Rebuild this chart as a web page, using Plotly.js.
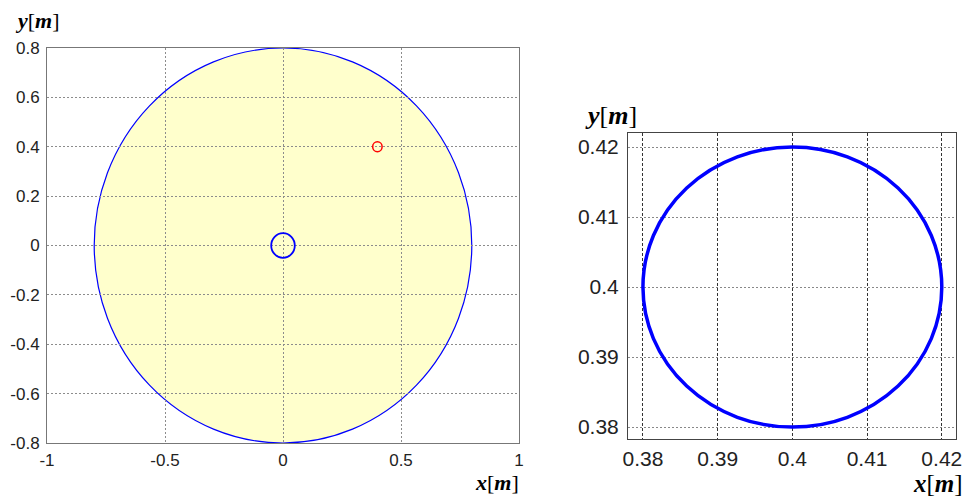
<!DOCTYPE html>
<html>
<head>
<meta charset="utf-8">
<script src="https://cdn.plot.ly/plotly-3.0.1.min.js"></script>
<style>
  html, body { margin: 0; padding: 0; background: #fff; }
  #chart { width: 966px; height: 497px; }
</style>
</head>
<body>
<div id="chart"></div>
<script>
// Workspace boundary, hub and target circles: centre (x, y) and radius in metres
const workspaceCenter = [0, 0];
const workspaceRadius = 0.8;
const hubCenter = [0, 0];
const hubRadius = 0.05;
const targetCenter = [0.4, 0.4];
const targetRadius = 0.02;

// Tick positions and labels, overview panel
const overviewXTicks = [-1, -0.5, 0, 0.5, 1];
const overviewXLabels = ['-1', '-0.5', '0', '0.5', '1'];
const overviewYTicks = [-0.8, -0.6, -0.4, -0.2, 0, 0.2, 0.4, 0.6, 0.8];
const overviewYLabels = ['-0.8', '-0.6', '-0.4', '-0.2', '0', '0.2', '0.4', '0.6', '0.8'];

// Tick positions and labels, detail panel around the target
const detailTicks = [0.38, 0.39, 0.40, 0.41, 0.42];
const detailLabels = ['0.38', '0.39', '0.4', '0.41', '0.42'];

function circleShape(xref, yref, c, r, color, width, fill, layer) {
  return {
    type: 'circle', xref: xref, yref: yref,
    x0: c[0] - r, x1: c[0] + r, y0: c[1] - r, y1: c[1] + r,
    line: { color: color, width: width },
    fillcolor: fill || 'rgba(0,0,0,0)',
    layer: layer || 'above'
  };
}

const W = 966, H = 497;
const dom = (a, b, n) => [a / n, b / n];
const vdom = (top, bottom) => [1 - bottom / H, 1 - top / H];

const tickFontL = { family: 'Liberation Sans, Arial, sans-serif', size: 17, color: '#222' };
const tickFontR = { family: 'Liberation Sans, Arial, sans-serif', size: 21, color: '#222' };
const labelFont = (s) => ({ family: 'Liberation Serif, Times New Roman, serif', size: s, color: '#000' });

const layout = {
  width: W, height: H,
  margin: { l: 0, r: 0, t: 0, b: 0 },
  paper_bgcolor: '#fff',
  plot_bgcolor: '#fff',
  showlegend: false,
  xaxis: {
    domain: dom(47, 519, W), range: [-1, 1], anchor: 'y',
    tickvals: overviewXTicks, ticktext: overviewXLabels,
    showgrid: true, gridcolor: '#8c8c8c', griddash: '2px,2px', gridwidth: 1,
    zeroline: false, showline: true, mirror: true, linecolor: '#777', linewidth: 1,
    ticks: '', tickfont: tickFontL, ticklabelstandoff: 2
  },
  yaxis: {
    domain: vdom(48, 443), range: [-0.8, 0.8], anchor: 'x',
    tickvals: overviewYTicks, ticktext: overviewYLabels,
    showgrid: true, gridcolor: '#8c8c8c', griddash: '2px,2px', gridwidth: 1,
    zeroline: false, showline: true, mirror: true, linecolor: '#777', linewidth: 1,
    ticks: '', tickfont: tickFontL, ticklabelstandoff: 3
  },
  xaxis2: {
    domain: dom(628, 956, W), range: [0.3780, 0.4219], anchor: 'y2',
    tickvals: detailTicks, ticktext: detailLabels,
    showgrid: true, gridcolor: '#333', griddash: '3px,2px', gridwidth: 1,
    zeroline: false, showline: true, mirror: true, linecolor: '#444', linewidth: 1,
    ticks: '', tickfont: tickFontR, ticklabelstandoff: 1
  },
  yaxis2: {
    domain: vdom(133, 439), range: [0.3783, 0.4220], anchor: 'x2',
    tickvals: detailTicks, ticktext: detailLabels,
    showgrid: true, gridcolor: '#888', griddash: '2px,2px', gridwidth: 1,
    zeroline: false, showline: true, mirror: true, linecolor: '#444', linewidth: 1,
    ticks: '', tickfont: tickFontR, ticklabelstandoff: 4
  },
  shapes: [
    circleShape('x', 'y', workspaceCenter, workspaceRadius, '#0000ff', 1.2, '#ffffcc', 'below'),
    circleShape('x', 'y', hubCenter, hubRadius, '#0000ff', 1.8),
    circleShape('x', 'y', targetCenter, targetRadius, '#ff0000', 1.5),
    circleShape('x2', 'y2', targetCenter, targetRadius, '#0000ff', 3.5)
  ],
  annotations: [
    { xref: 'paper', yref: 'paper', x: 13 / W, y: 1 - 20 / H, xanchor: 'left', yanchor: 'middle',
      text: '<b><i>y</i></b>[<b><i>m</i></b>]', showarrow: false, font: labelFont(22) },
    { xref: 'paper', yref: 'paper', x: 521 / W, y: 0, xanchor: 'right', yanchor: 'bottom',
      text: '<b><i>x</i></b>[<b><i>m</i></b>]', showarrow: false, font: labelFont(22) },
    { xref: 'paper', yref: 'paper', x: 583 / W, y: 1 - 116 / H, xanchor: 'left', yanchor: 'middle',
      text: '<b><i>y</i></b>[<b><i>m</i></b>]', showarrow: false, font: labelFont(26) },
    { xref: 'paper', yref: 'paper', x: 965 / W, y: 0, xanchor: 'right', yanchor: 'bottom', yshift: -2,
      text: '<b><i>x</i></b>[<b><i>m</i></b>]', showarrow: false, font: labelFont(25) }
  ]
};

// Invisible anchor traces so both subplots are created
const data = [
  { x: [workspaceCenter[0]], y: [workspaceCenter[1]], xaxis: 'x', yaxis: 'y', mode: 'markers',
    marker: { opacity: 0 }, hoverinfo: 'skip' },
  { x: [targetCenter[0]], y: [targetCenter[1]], xaxis: 'x2', yaxis: 'y2', mode: 'markers',
    marker: { opacity: 0 }, hoverinfo: 'skip' }
];

Plotly.newPlot('chart', data, layout, { displayModeBar: false, staticPlot: true });
</script>
</body>
</html>
